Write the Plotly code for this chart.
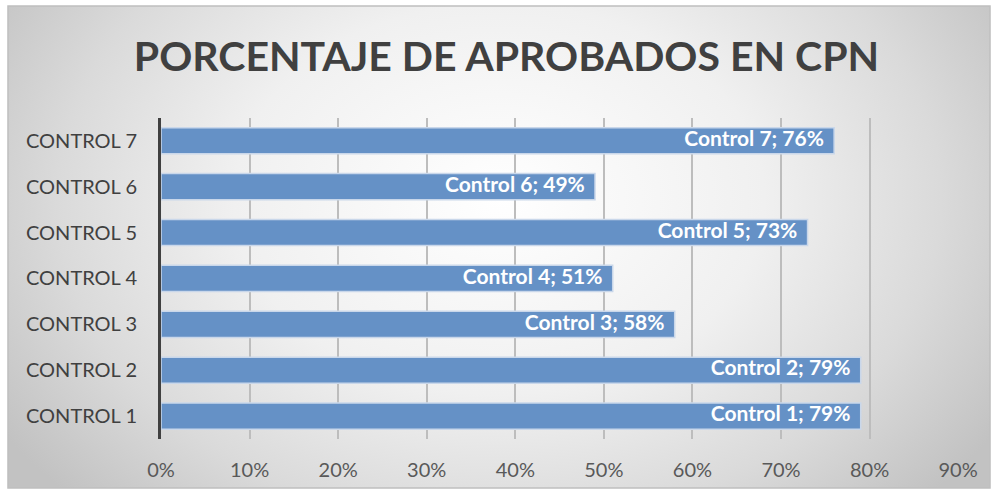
import plotly.graph_objects as go

# data
controles = ['Control 1', 'Control 2', 'Control 3', 'Control 4', 'Control 5', 'Control 6', 'Control 7']
etiquetas_eje = ['CONTROL 1', 'CONTROL 2', 'CONTROL 3', 'CONTROL 4', 'CONTROL 5', 'CONTROL 6', 'CONTROL 7']
aprobados = [79, 79, 58, 51, 73, 49, 76]

valores = [v / 100 for v in aprobados]
textos = [f'{c}; {v}%\u00a0\u00a0' for c, v in zip(controles, aprobados)]

fig = go.Figure()

# background panel with a radial gradient (drawn on its own axes, underneath)
fig.add_trace(go.Scatter(
    x=[-0.1, 1.1, 1.1, -0.1, -0.1], y=[-0.3, -0.3, 1.5, 1.5, -0.3],
    mode='lines', fill='toself', line=dict(width=0),
    fillgradient=dict(type='radial',
                      colorscale=[[0, '#ffffff'], [0.45, '#f0f0f0'], [0.75, '#dadada'], [1, '#c2c2c2']]),
    hoverinfo='skip', showlegend=False, xaxis='x', yaxis='y'
))

# bars
fig.add_trace(go.Bar(
    y=etiquetas_eje, x=valores, orientation='h',
    marker=dict(color='#6591c6', line=dict(color='#c9d7ea', width=1.5)),
    showlegend=False, xaxis='x2', yaxis='y2'
))

# data labels at the inner end of each bar
fig.add_trace(go.Scatter(
    y=etiquetas_eje, x=valores, mode='text', text=textos, textposition='middle left',
    textfont=dict(family='Lato', size=21, color='white', weight='bold'),
    hoverinfo='skip', showlegend=False, xaxis='x2', yaxis='y2'
))

fig.update_layout(
    width=997, height=495,
    margin=dict(l=0, r=0, t=0, b=0),
    paper_bgcolor='white',
    plot_bgcolor='rgba(0,0,0,0)',
    font=dict(family='Lato', color='#404040'),
    title=dict(text='<b>PORCENTAJE DE APROBADOS EN CPN</b>', x=0.508, xanchor='center',
               y=0.885, yanchor='middle', automargin=False,
               font=dict(family='Lato', size=41, color='#404040')),
    xaxis=dict(domain=[0.008, 0.993], range=[0, 1], visible=False, fixedrange=True, automargin=False),
    yaxis=dict(domain=[0.014, 0.988], range=[0, 1], visible=False, fixedrange=True, automargin=False),
    xaxis2=dict(domain=[0.1615, 0.961], range=[0, 0.9], dtick=0.1, tickformat='.0%',
                showgrid=True, gridcolor='#bdbdbd', gridwidth=1.5, zeroline=False,
                tickfont=dict(size=20, color='#595959'), ticklabelstandoff=17,
                anchor='y2', automargin=False),
    yaxis2=dict(domain=[0.113, 0.762], showline=True, linecolor='#404040', linewidth=3,
                tickfont=dict(size=20, color='#404040'), ticklabelstandoff=17,
                anchor='x2', automargin=False),
    bargap=0.43,
    shapes=[dict(type='rect', xref='paper', yref='paper', x0=0.008, x1=0.993, y0=0.014, y1=0.988,
                 line=dict(color='#bfbfbf', width=1.5), fillcolor='rgba(0,0,0,0)')]
)

# the page body has a default 8px margin; drop it so the figure sits at the window origin
fig.write_html("out.html", config={'displayModeBar': False},
               post_script="document.body.style.margin='0';")
